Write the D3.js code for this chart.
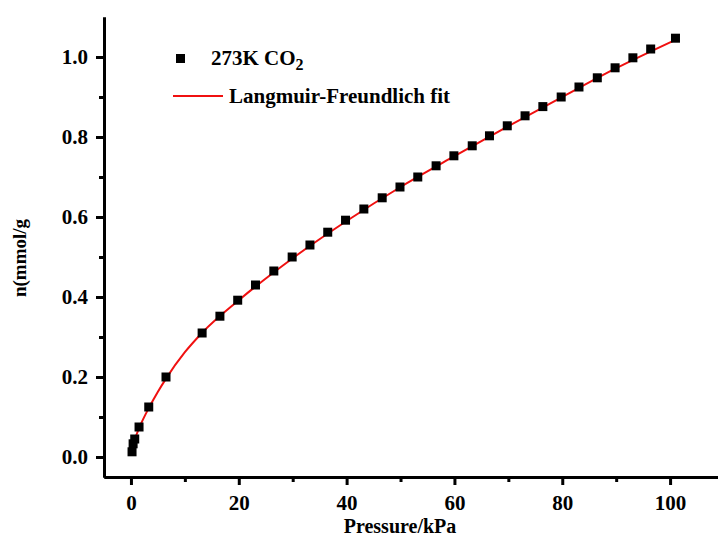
<!DOCTYPE html>
<html>
<head>
	<title>CO2 isotherm</title>
	<style>
		body { margin: 0; background: #fff; }
		text { font-family: "Liberation Serif", "Times New Roman", serif; font-weight: bold; }
	</style>
</head>
<body>
	<svg id="canvas" width="718" height="542"></svg>
	<script src="https://cdn.jsdelivr.net/npm/d3@7"></script>
	<script>
		// measured points (pressure kPa, uptake mmol/g)
		let pressure = [0.2, 0.4, 0.7, 1.5, 3.3, 6.5, 13.2, 16.5, 19.8, 23.1, 26.5, 29.9, 33.2, 36.5,
			39.8, 43.2, 46.6, 49.9, 53.2, 56.6, 59.9, 63.3, 66.5, 69.8, 73.1, 76.4, 79.8, 83.1, 86.5,
			89.8, 93.1, 96.4, 101.0];
		let uptake = [0.013, 0.033, 0.045, 0.075, 0.125, 0.2, 0.31, 0.352, 0.392, 0.43, 0.465, 0.5, 0.53, 0.562,
			0.592, 0.62, 0.648, 0.675, 0.7, 0.728, 0.753, 0.778, 0.803, 0.828, 0.853, 0.876, 0.9, 0.925, 0.948,
			0.973, 0.998, 1.02, 1.047];

		// fit curve
		let fitP = [0.1, 0.5, 1, 2, 3.3, 5, 6.5, 10, 13.3, 20, 30, 40, 50, 60, 70, 80, 90, 101];
		let fitN = [0.017, 0.035, 0.055, 0.087, 0.122, 0.163, 0.196, 0.262, 0.312, 0.392, 0.497, 0.59, 0.675, 0.752, 0.827, 0.9, 0.972, 1.043];

		let xTicks = [0, 20, 40, 60, 80, 100];
		let yTicks = [0.0, 0.2, 0.4, 0.6, 0.8, 1.0];

		let svg = d3.select("#canvas");

		let x = d3.scaleLinear().domain([-5, 110]).range([104, 724]);
		let y = d3.scaleLinear().domain([-0.05, 1.1]).range([477, 17]);

		// axes
		let xAxis = svg.append("g")
			.attr("transform", "translate(0," + y(-0.05) + ")")
			.call(d3.axisBottom(x).tickValues(xTicks).tickFormat(d3.format("d")).tickSize(8).tickSizeOuter(0));
		svg.append("g")
			.attr("transform", "translate(0," + y(-0.05) + ")")
			.call(d3.axisBottom(x).tickValues([10, 30, 50, 70, 90]).tickFormat("").tickSize(5).tickSizeOuter(0));

		let yAxis = svg.append("g")
			.attr("transform", "translate(" + x(-5) + ",0)")
			.call(d3.axisLeft(y).tickValues(yTicks).tickFormat(d3.format(".1f")).tickSize(8).tickSizeOuter(0));
		svg.append("g")
			.attr("transform", "translate(" + x(-5) + ",0)")
			.call(d3.axisLeft(y).tickValues([0.1, 0.3, 0.5, 0.7, 0.9]).tickFormat("").tickSize(5).tickSizeOuter(0));

		svg.selectAll(".domain").attr("stroke", "#000").attr("stroke-width", 3);
		svg.selectAll(".tick line").attr("stroke", "#000").attr("stroke-width", 3);
		svg.selectAll(".tick text").attr("font-size", 21).attr("fill", "#000")
			.style("font-family", "'Liberation Serif', serif").style("font-weight", "bold");
		xAxis.selectAll(".tick text").attr("dy", "1.05em");
		yAxis.selectAll(".tick text").attr("x", -16);

		// titles
		svg.append("text")
			.attr("x", 400).attr("y", 533)
			.attr("text-anchor", "middle")
			.attr("font-size", 20)
			.text("Pressure/kPa");
		svg.append("text")
			.attr("transform", "translate(26,258) rotate(-90)")
			.attr("text-anchor", "middle")
			.attr("font-size", 19)
			.text("n(mmol/g");

		// fit line
		let line = d3.line()
			.x(function(d, i){ return x(fitP[i]); })
			.y(function(d){ return y(d); })
			.curve(d3.curveMonotoneX);
		svg.append("path")
			.datum(fitN)
			.attr("d", line)
			.attr("fill", "none")
			.attr("stroke", "#f01010")
			.attr("stroke-width", 2);

		// points
		let s = 9;
		svg.selectAll("rect.pt").data(uptake).enter()
			.append("rect")
			.attr("class", "pt")
			.attr("x", function(d, i){ return x(pressure[i]) - s / 2; })
			.attr("y", function(d){ return y(d) - s / 2; })
			.attr("width", s).attr("height", s)
			.attr("fill", "#000");

		// legend
		let lg = svg.append("g");
		lg.append("rect").attr("x", 176).attr("y", 54).attr("width", s).attr("height", s).attr("fill", "#000");
		let t1 = lg.append("text").attr("x", 211).attr("y", 65).attr("font-size", 21);
		t1.append("tspan").text("273K CO");
		t1.append("tspan").attr("dy", 5).attr("font-size", 16).text("2");
		lg.append("line").attr("x1", 173).attr("x2", 223).attr("y1", 96).attr("y2", 96)
			.attr("stroke", "#f01010").attr("stroke-width", 2);
		lg.append("text").attr("x", 229).attr("y", 103).attr("font-size", 21).text("Langmuir-Freundlich fit");
	</script>
</body>
</html>
